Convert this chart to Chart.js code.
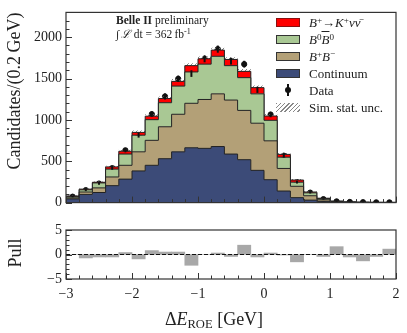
<!DOCTYPE html>
<html>
<head>
<meta charset="utf-8">
<script src="https://cdn.jsdelivr.net/npm/chart.js@4.4.1/dist/chart.umd.min.js"></script>
<style>
  body { margin: 0; background: #fff; }
  #wrap { position: relative; width: 407px; height: 333px; font-family: "Liberation Serif", serif; color: #222; }
  .box { position: absolute; left: 0; width: 407px; }
  .t { position: absolute; white-space: nowrap; line-height: 1; }
  .sw { position: absolute; left: 276px; width: 24px; height: 9px; box-sizing: border-box; border: 1px solid #333; }
  .lab { position: absolute; left: 309px; font-size: 13px; white-space: nowrap; line-height: 1; }
  sup { font-size: 70%; vertical-align: 0.45em; line-height: 0; }
  sub { font-size: 70%; vertical-align: -0.25em; line-height: 0; }
</style>
</head>
<body>
<div id="wrap">
  <div class="box" style="top:0;height:215px"><canvas id="mainChart"></canvas></div>
  <div class="box" style="top:215px;height:118px"><canvas id="pullChart"></canvas></div>

  <div class="t" style="left:14px;top:91px;font-size:18px;transform:translate(-50%,-50%) rotate(-90deg)">Candidates/(0.2&#8201;GeV)</div>
  <div class="t" style="left:15px;top:253px;font-size:18px;transform:translate(-50%,-50%) rotate(-90deg)">Pull</div>
  <div class="t" style="left:214px;top:319px;font-size:18px;transform:translate(-50%,-50%)">&Delta;<i>E</i><sub>ROE</sub> [GeV]</div>

  <div class="t" style="left:116px;top:15px;font-size:11.5px"><b>Belle II</b> preliminary</div>
  <div class="t" style="left:116px;top:29px;font-size:11.5px">&int;&#8201;<i>&Lscr;</i>&#8201;dt = 362&#8201;fb<sup>-1</sup></div>

  <div class="sw" style="top:18px;background:#ff0000;border-color:#8a1010"></div>
  <div class="lab" style="top:16px"><i>B</i><sup>+</sup>&rarr;<i>K</i><sup>+</sup><i>&nu;&nu;&#772;</i></div>
  <div class="sw" style="top:35px;background:#a9c894"></div>
  <div class="lab" style="top:33px"><i>B</i><sup>0</sup><i style="text-decoration:overline">B</i><sup>0</sup></div>
  <div class="sw" style="top:52px;background:#b3a077"></div>
  <div class="lab" style="top:50px"><i>B</i><sup>+</sup><i>B</i><sup>&minus;</sup></div>
  <div class="sw" style="top:69px;background:#3c4b78"></div>
  <div class="lab" style="top:67px">Continuum</div>
  <div style="position:absolute;left:287px;top:84px;width:2px;height:12px;background:#111"></div>
  <div style="position:absolute;left:285px;top:87px;width:6px;height:6px;border-radius:3px;background:#111"></div>
  <div class="lab" style="top:84px">Data</div>
  <div class="sw" style="top:103px;border:none;background:repeating-linear-gradient(135deg,#888 0 1px,transparent 1px 3px)"></div>
  <div class="lab" style="top:101px">Sim. stat. unc.</div>
</div>

<script>
// bin edges of the Delta E_ROE histogram (GeV)
const binEdges = [-3, -2.8, -2.6, -2.4, -2.2, -2, -1.8, -1.6, -1.4, -1.2, -1, -0.8, -0.6, -0.4, -0.2,
                  0, 0.2, 0.4, 0.6, 0.8, 1, 1.2, 1.4, 1.6, 1.8, 2];

// per-bin contributions (candidates / 0.2 GeV)
const continuum = [45, 99, 122, 205, 284, 383, 451, 531, 614, 663, 656, 678, 587, 519, 390, 277, 140, 60, 30, 15, 5, 2, 1, 1, 1];
const bChargedBkg = [12, 29, 56, 105, 167, 231, 302, 386, 454, 538, 591, 637, 653, 596, 570, 470, 273, 137, 53, 19, 7, 3, 2, 1, 1];
const bNeutralBkg = [15, 27, 60, 95, 136, 201, 250, 291, 341, 379, 427, 454, 416, 396, 355, 248, 136, 50, 35, 14, 4, 2, 1, 1, 0];
const signal = [8, 8, 8, 27, 34, 34, 42, 50, 57, 76, 65, 75, 75, 76, 75, 52, 34, 26, 10, 5, 2, 1, 1, 0, 1];
const simUnc = [6, 8, 10, 14, 18, 22, 24, 26, 28, 28, 28, 30, 28, 28, 26, 24, 18, 12, 8, 4, 2, 1, 1, 1, 1];

const dataCounts = [72, 151, 231, 417, 633, 815, 1070, 1284, 1497, 1560, 1739, 1856, 1712, 1674, 1364, 1065, 568, 247, 121, 42, 15, 8, 5, 3, 3];
const dataErr = [8, 12, 15, 20, 25, 29, 33, 36, 39, 40, 42, 43, 41, 41, 37, 33, 24, 16, 11, 6, 4, 3, 2, 2, 2];

const pulls = [0, -0.7, -0.5, -0.5, 0.4, -0.9, 0.8, 0.5, 0.5, -2.2, 0, 0.3, -0.4, 1.9, -0.5, 0.3, -0.1, -1.5, 0, -0.4, 1.6, -0.5, -1.3, -0.4, 1.1];

const mainTicks = [0, 500, 1000, 1500, 2000];
const pullTicks = [-5, 0, 5];

const FONT = "'Liberation Serif', serif";
const fmt = v => (v < 0 ? '\u2212' + Math.abs(v) : String(v));

// cumulative stack and step points
function cumulate(...parts) {
    return parts[0].map((_, i) => parts.reduce((s, p) => s + p[i], 0));
}
function steps(vals) {
    // first point holds bin 0 value, each next point carries previous bin value (stepped 'before')
    const pts = [{x: binEdges[0], y: vals[0]}];
    for (let i = 0; i < vals.length; i++) pts.push({x: binEdges[i + 1], y: vals[i + 1] !== undefined ? vals[i + 1] : vals[i]});
    return pts;
}
const centers = binEdges.slice(0, -1).map((e, i) => (e + binEdges[i + 1]) / 2);

const lvl1 = continuum;
const lvl2 = cumulate(continuum, bChargedBkg);
const lvl3 = cumulate(continuum, bChargedBkg, bNeutralBkg);
const lvl4 = cumulate(continuum, bChargedBkg, bNeutralBkg, signal);
const uncLo = lvl4.map((v, i) => v - simUnc[i]);
const uncHi = lvl4.map((v, i) => v + simUnc[i]);

// hatch pattern
const pc = document.createElement('canvas');
pc.width = 4; pc.height = 4;
const pctx = pc.getContext('2d');
pctx.strokeStyle = '#777';
pctx.lineWidth = 0.9;
pctx.beginPath();
pctx.moveTo(0, 4); pctx.lineTo(4, 0);
pctx.moveTo(-1, 1); pctx.lineTo(1, -1);
pctx.moveTo(3, 5); pctx.lineTo(5, 3);
pctx.stroke();
const hatch = pctx.createPattern(pc, 'repeat');

// frame + inward ticks
const frameTicks = {
    id: 'frameTicks',
    afterDatasetsDraw(chart, args, opts) {
        const {ctx, chartArea: a, scales: {x, y}} = chart;
        ctx.save();
        ctx.strokeStyle = '#333';
        ctx.lineWidth = 1;
        const nx = Math.round((x.max - x.min) / opts.xMinor);
        for (let i = 0; i <= nx; i++) {
            const v = x.min + i * opts.xMinor;
            const major = Math.abs(v / opts.xMajor - Math.round(v / opts.xMajor)) < 1e-6;
            const px = Math.round(x.getPixelForValue(v)) + 0.5;
            ctx.beginPath();
            ctx.moveTo(px, a.bottom);
            ctx.lineTo(px, a.bottom - (major ? 6 : 3.5));
            ctx.stroke();
        }
        const ny = Math.round((opts.yTop - y.min) / opts.yMinor);
        for (let i = 0; i <= ny; i++) {
            const v = y.min + i * opts.yMinor;
            const major = Math.abs(v / opts.yMajor - Math.round(v / opts.yMajor)) < 1e-6;
            const py = Math.round(y.getPixelForValue(v)) + 0.5;
            ctx.beginPath();
            ctx.moveTo(a.left, py);
            ctx.lineTo(a.left + (major ? 6 : 3.5), py);
            ctx.stroke();
        }
        ctx.lineWidth = 1.2;
        ctx.strokeRect(a.left, a.top, a.right - a.left, a.bottom - a.top);
        ctx.restore();
    }
};

// error bars on data points
const errorBars = {
    id: 'errorBars',
    afterDatasetsDraw(chart) {
        const idx = chart.data.datasets.findIndex(d => d.label === 'Data');
        if (idx < 0) return;
        const {ctx, scales: {y}} = chart;
        const meta = chart.getDatasetMeta(idx);
        ctx.save();
        ctx.strokeStyle = '#111';
        ctx.lineWidth = 2;
        meta.data.forEach((pt, i) => {
            ctx.beginPath();
            ctx.moveTo(pt.x, y.getPixelForValue(dataCounts[i] - dataErr[i]));
            ctx.lineTo(pt.x, y.getPixelForValue(dataCounts[i] + dataErr[i]));
            ctx.stroke();
        });
        ctx.restore();
    }
};

const stepLine = (label, vals, color, fill) => ({
    type: 'line',
    label: label,
    data: steps(vals),
    stepped: 'before',
    borderColor: '#222',
    borderWidth: 1,
    backgroundColor: color,
    fill: fill,
    pointRadius: 0
});

new Chart(document.getElementById('mainChart'), {
    type: 'line',
    data: {
        datasets: [
            stepLine('Continuum', lvl1, '#3c4b78', 'origin'),
            stepLine('B+B-', lvl2, '#b3a077', '-1'),
            stepLine('B0B0bar', lvl3, '#a9c894', '-1'),
            stepLine('Signal', lvl4, '#ff0000', '-1'),
            {
                type: 'line', label: 'uncLo', data: steps(uncLo), stepped: 'before',
                borderWidth: 0, borderColor: 'rgba(0,0,0,0)', pointRadius: 0, fill: false
            },
            {
                type: 'line', label: 'Sim. stat. unc.', data: steps(uncHi), stepped: 'before',
                borderWidth: 0, borderColor: 'rgba(0,0,0,0)', pointRadius: 0,
                backgroundColor: hatch, fill: '-1'
            },
            {
                type: 'scatter', label: 'Data',
                data: centers.map((c, i) => ({x: c, y: dataCounts[i]})),
                backgroundColor: '#111', borderColor: '#111',
                pointRadius: 2.6, pointStyle: 'circle'
            }
        ]
    },
    options: {
        responsive: true,
        maintainAspectRatio: false,
        animation: false,
        layout: {padding: {left: 0, right: 11, top: 6, bottom: 6}},
        plugins: {
            legend: {display: false},
            tooltip: {enabled: false},
            frameTicks: {xMinor: 0.2, xMajor: 1, yMinor: 100, yMajor: 500, yTop: 2300}
        },
        scales: {
            x: {type: 'linear', min: -3, max: 2, offset: false, display: false},
            y: {
                min: 0, max: 2300,
                afterFit: s => { s.width = 66; },
                afterBuildTicks: s => { s.ticks = mainTicks.map(v => ({value: v})); },
                grid: {display: false, drawTicks: false},
                border: {display: false},
                ticks: {padding: 4, color: '#222', font: {family: FONT, size: 14}, callback: fmt}
            }
        }
    },
    plugins: [frameTicks, errorBars]
});

new Chart(document.getElementById('pullChart'), {
    type: 'bar',
    data: {
        datasets: [
            {
                type: 'line', label: 'zero',
                data: [{x: -3, y: 0}, {x: 2, y: 0}],
                borderColor: '#111', borderWidth: 1, borderDash: [4, 2],
                pointRadius: 0, order: 0
            },
            {
                type: 'bar', label: 'Pull',
                data: centers.map((c, i) => ({x: c, y: pulls[i]})),
                backgroundColor: '#a8a8a8',
                barPercentage: 1, categoryPercentage: 1,
                order: 1
            }
        ]
    },
    options: {
        responsive: true,
        maintainAspectRatio: false,
        animation: false,
        layout: {padding: {left: 0, right: 11, top: 15, bottom: 0}},
        plugins: {
            legend: {display: false},
            tooltip: {enabled: false},
            frameTicks: {xMinor: 0.2, xMajor: 1, yMinor: 1, yMajor: 5, yTop: 5}
        },
        scales: {
            x: {
                type: 'linear', min: -3, max: 2, offset: false,
                afterFit: s => { s.height = 54; },
                grid: {display: false, drawTicks: false},
                border: {display: false},
                ticks: {
                    stepSize: 1, padding: 7, color: '#222', maxRotation: 0,
                    font: {family: FONT, size: 14}, callback: fmt
                }
            },
            y: {
                min: -5, max: 5,
                afterFit: s => { s.width = 66; },
                afterBuildTicks: s => { s.ticks = pullTicks.map(v => ({value: v})); },
                grid: {display: false, drawTicks: false},
                border: {display: false},
                ticks: {padding: 4, color: '#222', font: {family: FONT, size: 14}, callback: fmt}
            }
        }
    },
    plugins: [frameTicks]
});
</script>
</body>
</html>
